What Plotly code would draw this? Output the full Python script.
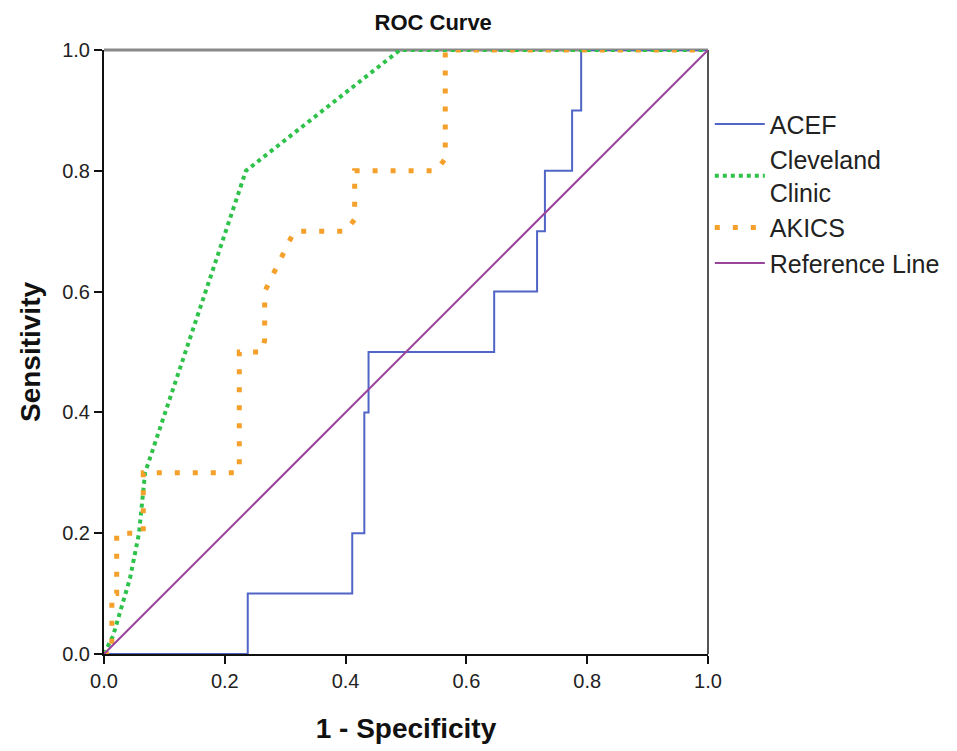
import plotly.graph_objects as go

# ---- data ----
acef_x = [0, 0.238, 0.238, 0.411, 0.411, 0.431, 0.431, 0.438, 0.438, 0.646, 0.646, 0.717, 0.717, 0.730, 0.730, 0.775, 0.775, 0.790, 0.790, 1.0]
acef_y = [0, 0,     0.1,   0.1,   0.2,   0.2,   0.4,   0.4,   0.5,   0.5,   0.6,   0.6,   0.7,   0.7,   0.8,   0.8,   0.9,   0.9,   1.0,   1.0]

cc_x = [0, 0.015, 0.043, 0.058, 0.068, 0.235, 0.490, 1.0]
cc_y = [0, 0.030, 0.125, 0.200, 0.300, 0.800, 1.000, 1.0]

akics_x = [0, 0.013, 0.013, 0.021, 0.021, 0.065, 0.065, 0.222, 0.224, 0.224, 0.262, 0.266, 0.266, 0.315, 0.401, 0.415, 0.415, 0.550, 0.565, 0.565, 1.0]
akics_y = [0, 0,     0.1,   0.1,   0.2,   0.2,   0.3,   0.3,   0.31,  0.5,   0.5,   0.52,  0.6,   0.7,   0.7,   0.72,  0.8,   0.8,   0.82,  1.0,   1.0]

ref_x = [0, 1]
ref_y = [0, 1]

tick_vals = [0, 0.2, 0.4, 0.6, 0.8, 1.0]
tick_text = ["0.0", "0.2", "0.4", "0.6", "0.8", "1.0"]

FONT = "Liberation Sans, Arial, sans-serif"

fig = go.Figure()
fig.add_trace(go.Scatter(x=acef_x, y=acef_y, mode="lines", name="ACEF",
                         line=dict(color="#5065c6", width=2)))
fig.add_trace(go.Scatter(x=cc_x, y=cc_y, mode="lines", name="Cleveland<br>Clinic",
                         line=dict(color="#2fc24a", width=4, dash="4px,4px")))
fig.add_trace(go.Scatter(x=akics_x, y=akics_y, mode="lines", name="AKICS",
                         line=dict(color="#f5a02a", width=5, dash="5px,13px")))
fig.add_trace(go.Scatter(x=ref_x, y=ref_y, mode="lines", name="Reference Line",
                         line=dict(color="#9a449c", width=2)))

fig.update_layout(
    width=957, height=751,
    margin=dict(l=104, r=248, t=50, b=95),
    paper_bgcolor="white", plot_bgcolor="white",
    font=dict(family=FONT, color="#222"),
    title=dict(text="<b>ROC Curve</b>", x=0.545, xref="paper", xanchor="center",
               y=1 - 22 / 751, yref="container", yanchor="middle",
               font=dict(size=22, color="#111", family=FONT)),
    legend=dict(x=1.003, xanchor="left", y=0.915, yanchor="top",
                font=dict(size=25, color="#222", family=FONT),
                bgcolor="rgba(0,0,0,0)", itemwidth=50, tracegroupgap=0),
    showlegend=True,
    shapes=[
        dict(type="line", xref="paper", yref="paper", x0=0, x1=1, y0=1, y1=1,
             line=dict(color="#8a8a8a", width=3), layer="below"),
        dict(type="line", xref="paper", yref="paper", x0=1, x1=1, y0=0, y1=1,
             line=dict(color="#555555", width=2), layer="below"),
    ],
)

fig.update_xaxes(range=[0, 1], tickvals=tick_vals, ticktext=tick_text,
                 showgrid=False, zeroline=False, showline=True, linecolor="#111", linewidth=2,
                 ticks="outside", ticklen=8, tickwidth=2, tickcolor="#111",
                 tickfont=dict(size=20, color="#222", family=FONT),
                 title=dict(text="<b>1 - Specificity</b>", standoff=27,
                            font=dict(size=28, color="#111", family=FONT)))
fig.update_yaxes(range=[0, 1], tickvals=tick_vals, ticktext=tick_text,
                 showgrid=False, zeroline=False, showline=True, linecolor="#111", linewidth=2,
                 ticks="outside", ticklen=8, tickwidth=2, tickcolor="#111",
                 tickfont=dict(size=20, color="#222", family=FONT),
                 title=dict(text="<b>Sensitivity</b>", standoff=13,
                            font=dict(size=28, color="#111", family=FONT)))

fig.write_html("out.html")
